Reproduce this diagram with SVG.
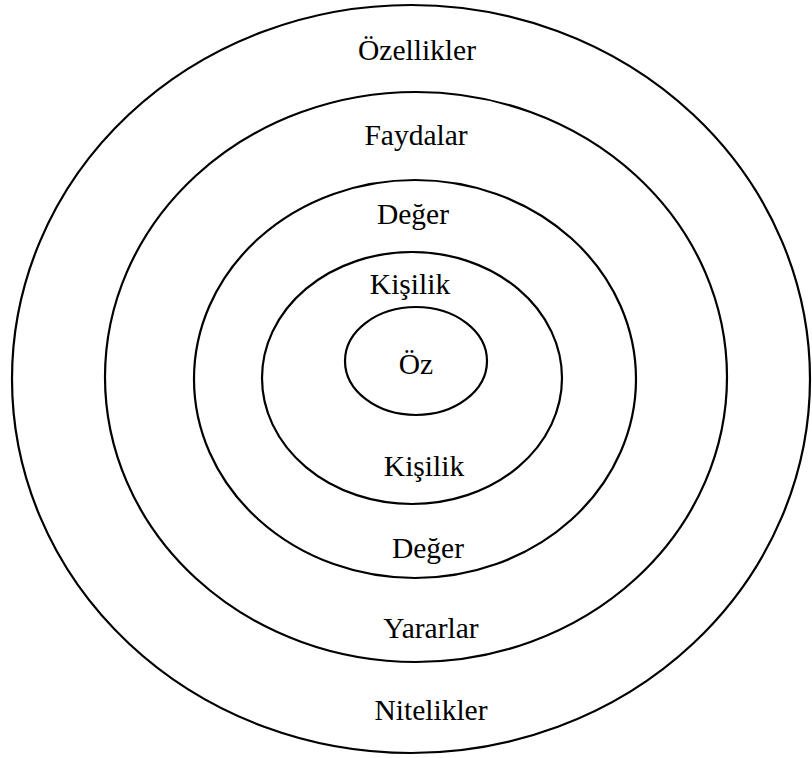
<svg xmlns="http://www.w3.org/2000/svg" width="812" height="758" viewBox="0 0 812 758">
<style>
.r{fill:none;stroke:#000;stroke-width:2.2}
.t{font-family:"Liberation Serif","Times New Roman",serif;font-size:29.5px;fill:#000;text-anchor:middle}
</style>
<rect width="812" height="758" fill="#fff"/>
<g id="ring-ozellikler"><ellipse class="r" cx="411" cy="379" rx="399" ry="374"/></g>
<g id="ring-faydalar"><ellipse class="r" cx="416" cy="377" rx="311" ry="285"/></g>
<g id="ring-deger"><ellipse class="r" cx="415" cy="379" rx="221" ry="199"/></g>
<g id="ring-kisilik"><ellipse class="r" cx="412" cy="378" rx="150" ry="126"/></g>
<g id="core-oz"><ellipse class="r" cx="416" cy="361" rx="71" ry="54"/></g>
<g id="labels">
<text class="t" x="417" y="60">Özellikler</text>
<text class="t" x="416" y="145">Faydalar</text>
<text class="t" x="413" y="224">Değer</text>
<text class="t" x="410" y="294">Kişilik</text>
<text class="t" x="416" y="374">Öz</text>
<text class="t" x="424" y="476">Kişilik</text>
<text class="t" x="428" y="558">Değer</text>
<text class="t" x="431" y="638">Yararlar</text>
<text class="t" x="431" y="720">Nitelikler</text>
</g>
</svg>
